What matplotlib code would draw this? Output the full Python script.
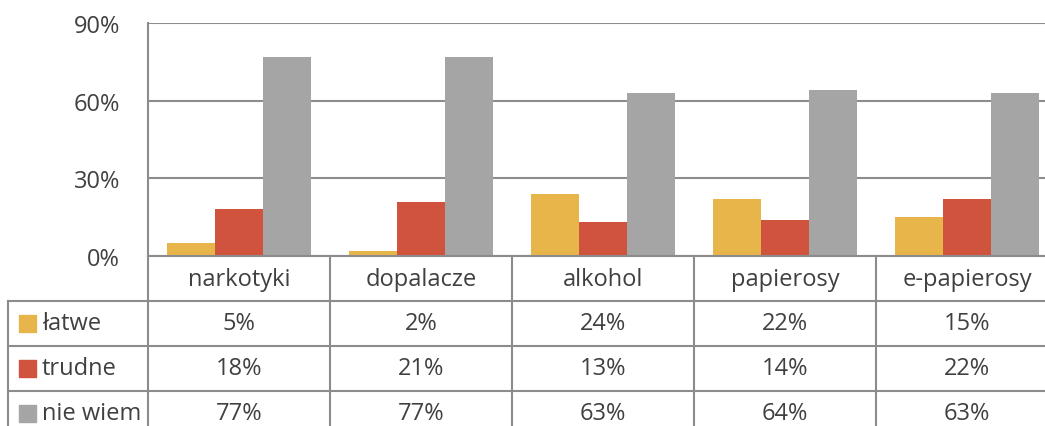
import matplotlib.pyplot as plt
import numpy as np

plt.rcParams['font.family'] = ['Open Sans', 'DejaVu Sans']

categories = ['narkotyki', 'dopalacze', 'alkohol', 'papierosy', 'e-papierosy']
series_names = ['łatwe', 'trudne', 'nie wiem']
latwe = [5, 2, 24, 22, 15]
trudne = [18, 21, 13, 14, 22]
nie_wiem = [77, 77, 63, 64, 63]
colors = ['#E8B54A', '#D0533D', '#A5A5A5']
yticks = [0, 30, 60, 90]

W, H = 1045, 427
txt_col = '#404040'
line_col = '#8C8C8C'
fs = 17

fig = plt.figure(figsize=(W / 100, H / 100), dpi=100)

# chart area (runs past the right edge like the original crop)
left_px, right_px, top_px, base_px = 148, 1058, 24, 257
ax = fig.add_axes([left_px / W, (H - base_px) / H, (right_px - left_px) / W, (base_px - top_px) / H])

series = [latwe, trudne, nie_wiem]
bw = 48 / 182
x = np.arange(len(categories)) + 0.5
for k, vals in enumerate(series):
    ax.bar(x + (k - 1) * bw, vals, width=bw, color=colors[k], zorder=3)

ax.set_xlim(0, len(categories))
ax.set_ylim(0, 90)
ax.set_yticks(yticks)
ax.set_yticklabels([f'{t}%' for t in yticks], fontsize=fs, color=txt_col)
ax.set_xticks([])
ax.tick_params(axis='y', length=0, pad=20)
ax.grid(axis='y', color=line_col, linewidth=1.5, zorder=0)
for s in ['top', 'right', 'bottom']:
    ax.spines[s].set_visible(False)
ax.spines['left'].set_color(line_col)
ax.spines['left'].set_linewidth(1.5)

# data table below the chart
label_w = 140 / 182
row_h = 45
tab_left = 8
n_rows = 4
tax = fig.add_axes([tab_left / W, (H - base_px - n_rows * row_h) / H,
                    (right_px - tab_left) / W, n_rows * row_h / H])
tax.set_xlim(-label_w, len(categories))
tax.set_ylim(n_rows, 0)
tax.axis('off')

lw = 1.5
tax.plot([0, len(categories)], [0, 0], color=line_col, lw=lw, clip_on=False)
for r in range(1, n_rows + 1):
    tax.plot([-label_w, len(categories)], [r, r], color=line_col, lw=lw, clip_on=False)
tax.plot([-label_w, -label_w], [1, n_rows], color=line_col, lw=lw, clip_on=False)
for c in range(len(categories) + 1):
    tax.plot([c, c], [0, n_rows], color=line_col, lw=lw, clip_on=False)

for i, cat in enumerate(categories):
    tax.text(i + 0.5, 0.5, cat, ha='center', va='center', fontsize=fs, color=txt_col)
    for k, vals in enumerate(series):
        tax.text(i + 0.5, k + 1.5, f'{vals[i]}%', ha='center', va='center', fontsize=fs, color=txt_col)

sq = 17 / 182
for k, name in enumerate(series_names):
    tax.add_patch(plt.Rectangle((-label_w + 11 / 182, k + 1.5 - 0.19), sq, 0.38,
                                color=colors[k], clip_on=False))
    tax.text(-label_w + 34 / 182, k + 1.5, name, ha='left', va='center', fontsize=fs, color=txt_col)

fig.savefig('out.png', dpi=100)
